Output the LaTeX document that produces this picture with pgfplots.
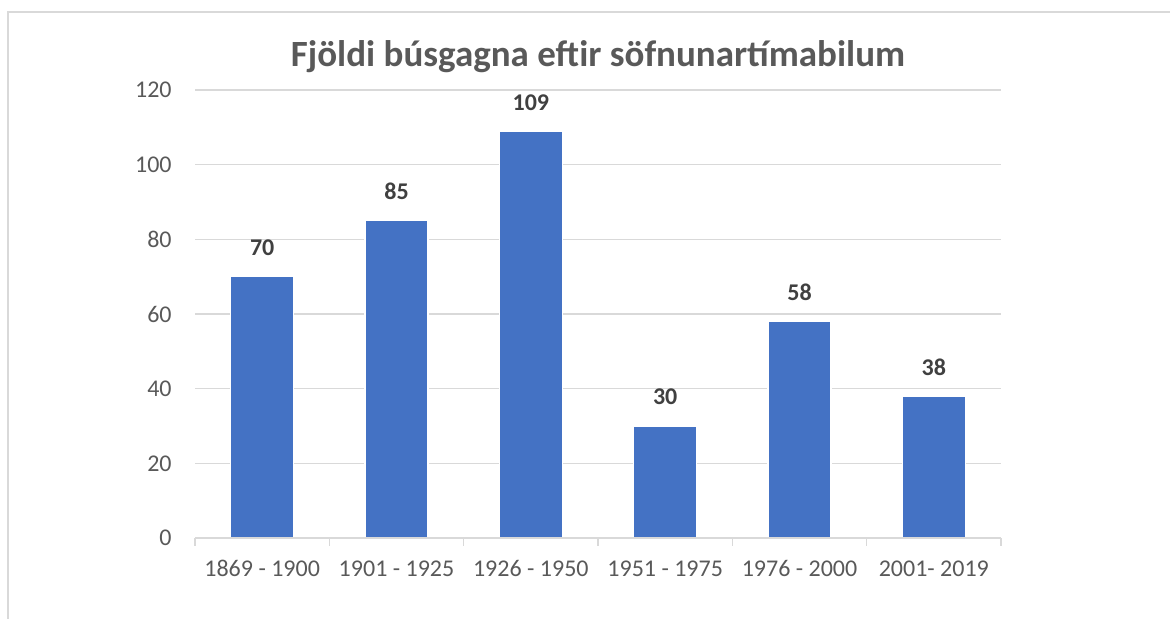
\documentclass[border=0pt]{standalone}
\usepackage{fontspec}
\setmainfont{Carlito}
\usepackage{pgfplots}
\pgfplotsset{compat=1.18}

\definecolor{barblue}{HTML}{4472C4}
\definecolor{gridgray}{HTML}{D9D9D9}
\definecolor{ticktext}{HTML}{595959}
\definecolor{labeltext}{HTML}{404040}

\begin{document}
\begin{tikzpicture}
% page = 1170x619 px at 0.5pt per px, axis box lower-left at (0,0)
\useasboundingbox (-97.5pt,-40.5pt) rectangle (487.5pt,269pt);
\draw[gridgray, line width=0.75pt] (-93.5pt,-41pt) -- (-93.5pt,263pt) -- (488pt,263pt);
\node[anchor=base, text=ticktext, font=\fontsize{18.5}{22}\selectfont\bfseries]
  at (201.5pt,235.5pt) {Fjöldi búsgagna eftir söfnunartímabilum};
\begin{axis}[
    scale only axis,
    width=403pt, height=224pt,
    ybar, bar width=31.5pt,
    xmin=-0.5, xmax=5.5,
    ymin=0, ymax=120,
    ytick={0,20,...,120},
    xtick={0,...,5},
    xticklabels={1869 - 1900, 1901 - 1925, 1926 - 1950, 1951 - 1975, 1976 - 2000, 2001- 2019},
    minor xtick={-0.5,0.5,...,5.5},
    major tick length=0pt,
    minor tick length=4pt,
    tick align=outside,
    minor tick style={gridgray, line width=0.8pt},
    axis line style={draw=none},
    axis x line*=bottom,
    axis y line*=left,
    ymajorgrids,
    grid style={gridgray, line width=0.6pt},
    /pgf/number format/assume math mode=true,
    tick label style={text=ticktext, font=\fontsize{12}{14}\selectfont},
    xticklabel style={anchor=base, inner sep=0pt, yshift=-19.5pt},
    yticklabel style={anchor=east, inner sep=0pt, xshift=-11.5pt},
    nodes near coords,
    every node near coord/.append style={anchor=base, inner sep=0pt, yshift=10.5pt,
      text=labeltext, font=\fontsize{12}{14}\selectfont\bfseries},
    clip=false,
]
\addplot[fill=barblue, draw=white, line width=0.75pt] coordinates {
  (0,70) (1,85) (2,109) (3,30) (4,58) (5,38)};
\draw[gridgray, line width=0.8pt] (rel axis cs:0,0) -- (rel axis cs:1,0);
\end{axis}
\end{tikzpicture}
\end{document}
